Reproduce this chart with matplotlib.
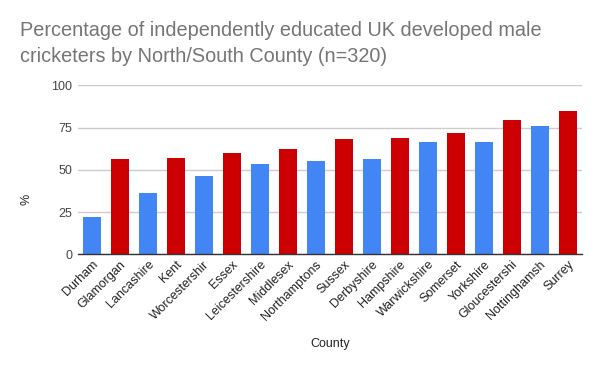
import matplotlib
matplotlib.use("Agg")
import matplotlib.pyplot as plt

plt.rcParams['font.family'] = ['Liberation Sans', 'DejaVu Sans']

counties = ["Durham", "Glamorgan", "Lancashire", "Kent", "Worcestershir", "Essex",
            "Leicestershire", "Middlesex", "Northamptons", "Sussex", "Derbyshire",
            "Hampshire", "Warwickshire", "Somerset", "Yorkshire", "Gloucestershi",
            "Nottinghamsh", "Surrey"]
values = [22.0, 56.2, 36.1, 56.8, 46.2, 59.8, 53.3, 62.1, 55.0, 68.0, 56.2,
          68.6, 66.3, 71.6, 66.3, 79.3, 75.7, 84.6]
region = ["North", "South", "North", "South", "North", "South", "North", "South",
          "North", "South", "North", "South", "North", "South", "North", "South",
          "North", "South"]
yticks = [0, 25, 50, 75, 100]

colors = {"North": "#4285F4", "South": "#CC0000"}

fig = plt.figure(figsize=(6, 3.71), dpi=100)
ax = fig.add_axes([0.1295, 0.3146, 0.84, 0.4554])

x = list(range(len(counties)))
ax.bar(x, values, width=0.64, color=[colors[r] for r in region], zorder=3)

ax.set_xlim(-0.5, len(counties) - 0.5)
ax.set_ylim(0, 100)
ax.set_yticks(yticks)
ax.set_yticklabels([str(t) for t in yticks], fontsize=9, color="#444444")
ax.set_xticks(x)
ax.set_xticklabels(counties, rotation=45, ha="right", rotation_mode="anchor",
                   fontsize=9, color="#222222")
ax.tick_params(axis="both", length=0, pad=4)
ax.tick_params(axis="x", pad=3)
ax.grid(axis="y", color="#cccccc", linewidth=1, zorder=0)
for s in ["top", "right", "left"]:
    ax.spines[s].set_visible(False)
ax.spines["bottom"].set_color("#333333")
ax.spines["bottom"].set_linewidth(1)
ax.spines["bottom"].set_zorder(4)

fig.text(26 / 600, 1 - 199 / 371, "%", rotation=90, ha="center", va="center",
         fontsize=9, color="#222222")
fig.text(0.5495, 1 - 344 / 371, "County", ha="center", va="center",
         fontsize=9, color="#222222")

fig.text(20 / 600, 1 - 36 / 371,
         "Percentage of independently educated UK developed male",
         ha="left", va="baseline", fontsize=14.3, color="#757575")
fig.text(20 / 600, 1 - 62 / 371,
         "cricketers by North/South County (n=320)",
         ha="left", va="baseline", fontsize=14.3, color="#757575")

fig.savefig("out.png", dpi=100, facecolor="white")
